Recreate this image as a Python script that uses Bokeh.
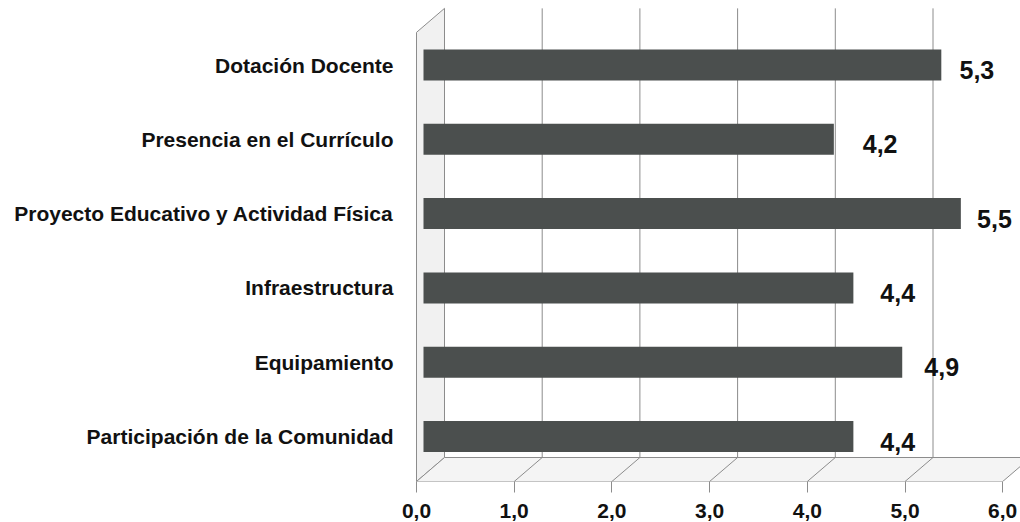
from bokeh.plotting import figure
from bokeh.models import Range1d, LinearAxis, FixedTicker
from bokeh.core.properties import value
from bokeh.embed import file_html
from bokeh.resources import INLINE

# ---- data ----
categories = [
    "Dotación Docente",
    "Presencia en el Currículo",
    "Proyecto Educativo y Actividad Física",
    "Infraestructura",
    "Equipamiento",
    "Participación de la Comunidad",
]
scores = [5.3, 4.2, 5.5, 4.4, 4.9, 4.4]
ticks = [0, 1, 2, 3, 4, 5, 6]
tick_labels = ["0,0", "1,0", "2,0", "3,0", "4,0", "5,0", "6,0"]

# ---- layout constants (pixels) ----
W, H = 1020, 522
FRAME_H = 481          # front floor edge sits at the bottom of the frame
UX, UY = 97.7, 74.3    # pixels per value unit / per category step


def xr(origin):
    return Range1d(-origin / UX, (W - origin) / UX)


def yr(origin):
    return Range1d((FRAME_H - origin) / UY, -origin / UY)


FONT = value("Liberation Sans")
GRID = "#8c8c8c"

p = figure(width=W, height=H, x_range=xr(416), y_range=yr(70.5),
           output_backend="svg", toolbar_location=None,
           x_axis_type=None, y_axis_type=None,
           min_border=0, min_border_bottom=H - FRAME_H)
p.outline_line_color = None
p.background_fill_color = "white"
p.border_fill_color = "white"

# planes: bars sit a little behind the front plane; labels use their own scale
p.extra_x_ranges = {"bx": xr(423), "lx": Range1d(-510 / 88, (W - 510) / 88)}
p.extra_y_ranges = {"by": yr(64.5)}

# ---- 3D frame (front-plane coordinates) ----
DX, DY = 28 / UX, -24 / UY
F = (FRAME_H - 70.5) / UY   # floor (front edge)
T = -0.52                   # top of walls
x0, x6 = ticks[0], ticks[-1]

# back-wall gridlines
gx = [t + DX for t in ticks[1:]]
p.segment(x0=gx, y0=[T + DY] * len(gx), x1=gx, y1=[F + DY] * len(gx),
          line_color=GRID, line_width=1)
# left wall
p.patch([x0, x0, x0 + DX, x0 + DX], [F, T, T + DY, F + DY],
        fill_color="#f1f1f1", line_color=GRID, line_width=1)
# floor
p.patch([x0, x6, x6 + DX, x0 + DX], [F, F, F + DY, F + DY],
        fill_color="#f4f4f4", line_color=GRID, line_width=1)
fx = ticks[1:-1]
p.segment(x0=fx, y0=[F] * len(fx), x1=[t + DX for t in fx], y1=[F + DY] * len(fx),
          line_color=GRID, line_width=1)

# ---- bars ----
idx = list(range(len(categories)))
p.hbar(y=idx, left=0, right=scores, height=31 / UY,
       fill_color="#4b4f4e", line_color=None,
       x_range_name="bx", y_range_name="by")

# category labels
p.text(x=0, y=idx, text=categories, x_range_name="bx", y_range_name="by",
       x_offset=-30, text_align="right", text_baseline="middle",
       text_font=FONT, text_font_style="bold", text_font_size="21px",
       text_color="#111111")

# value labels
p.text(x=scores, y=idx, text=[f"{v:.1f}".replace(".", ",") for v in scores],
       x_range_name="lx", y_range_name="by", y_offset=5,
       text_align="center", text_baseline="middle",
       text_font=FONT, text_font_style="bold", text_font_size="25px",
       text_color="#111111")

# ---- x axis ----
ax = LinearAxis(ticker=FixedTicker(ticks=ticks),
                major_label_overrides=dict(zip(ticks, tick_labels)))
ax.axis_line_color = None
ax.major_tick_in = 0
ax.major_tick_out = 11
ax.major_tick_line_color = GRID
ax.minor_tick_line_color = None
ax.major_label_standoff = 11
ax.major_label_text_font = "Liberation Sans"
ax.major_label_text_font_style = "bold"
ax.major_label_text_font_size = "21px"
ax.major_label_text_color = "#111111"
p.add_layout(ax, "below")

open("out.html", "w").write(file_html(p, INLINE))
